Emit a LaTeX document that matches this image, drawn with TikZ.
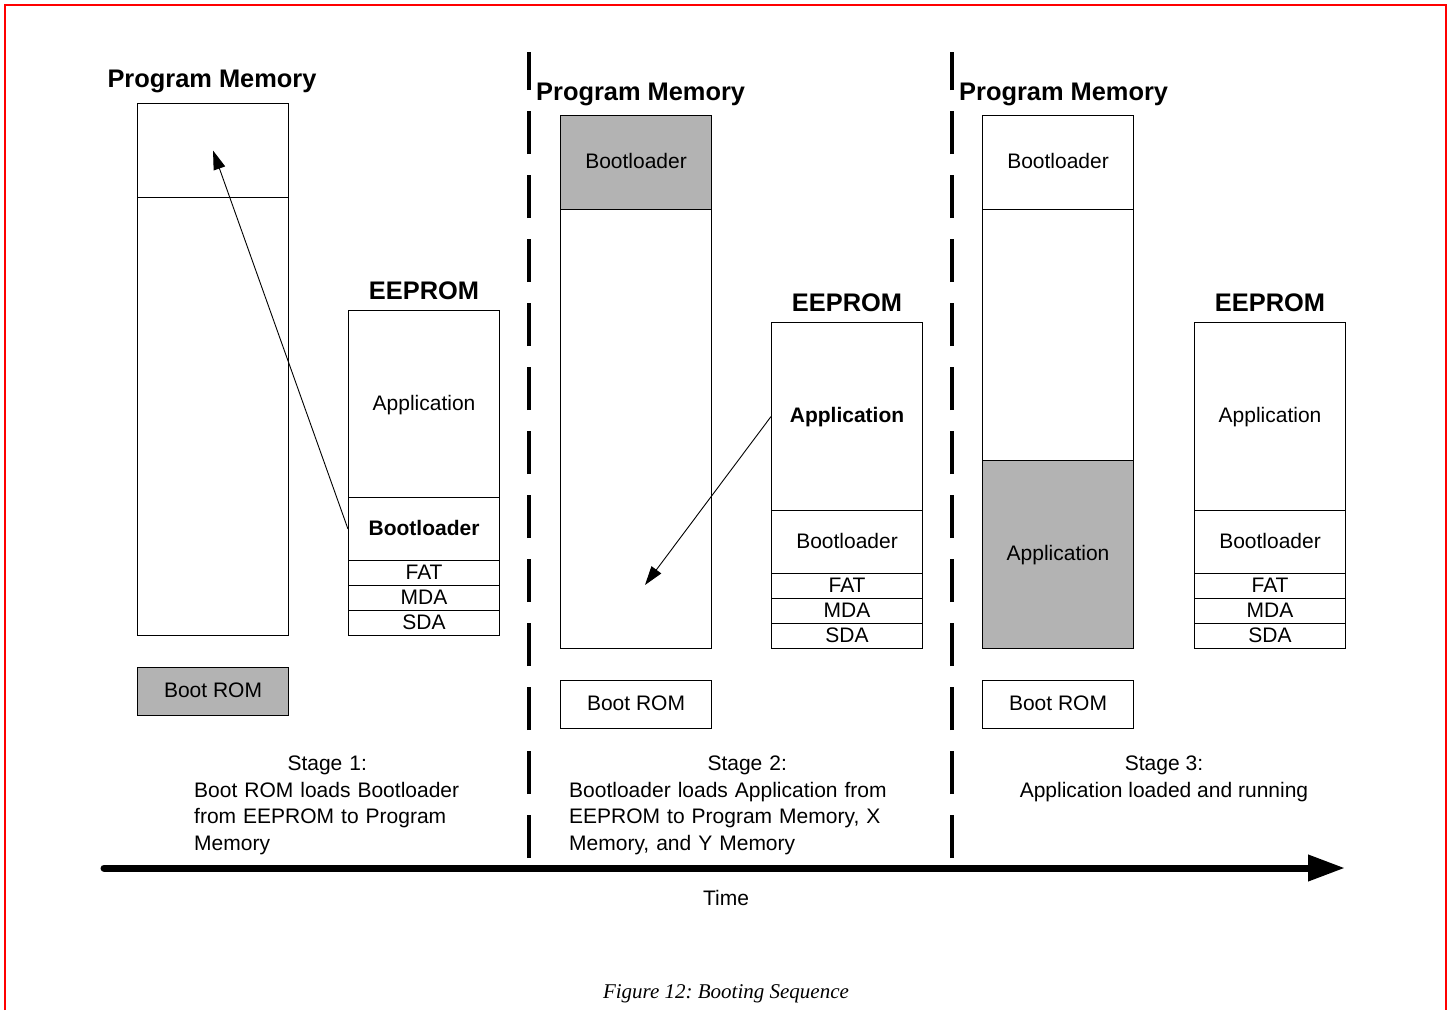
\documentclass[tikz,border=0pt]{standalone}
\usepackage{fontspec}
\setmainfont{Liberation Sans}
\newfontfamily\capfont{Liberation Serif}
\usetikzlibrary{arrows.meta}
\definecolor{boxgray}{RGB}{179,179,179}
\frenchspacing
\begin{document}
\begin{tikzpicture}[x=1pt,y=-1pt,
  cell/.style={draw=black, line width=1.1pt, minimum width=151pt, inner sep=0pt,
    anchor=north west, font=\fontsize{21}{25}\selectfont, text height=12pt, text depth=0pt},
  shaded/.style={fill=boxgray},
  title/.style={font=\fontsize{25.4}{30}\selectfont\bfseries, inner sep=0pt},
  stagetxt/.style={font=\fontsize{21}{26.5}\selectfont, inner sep=0pt},
  divider/.style={line width=3.2pt, dash pattern=on 43pt off 21pt},
  loadarrow/.style={line width=0.9pt, -{Triangle[length=19pt,width=12pt]}},
  timeline/.style={line width=7pt, line cap=round, -{Triangle[length=37pt,width=25pt]}}
]
\useasboundingbox (0,0) rectangle (1452,1010);
% red frame
\draw[red, line width=2pt] (5,1010) -- (5,5) -- (1446,5) -- (1446,1010);

% ---------- Stage 1 ----------
\node[title, anchor=base] (t1pm) at (212,87) {Program Memory};
\node[cell, minimum height=94pt] (pm1top) at (137,103) {};
\node[cell, minimum height=438pt] (pm1bot) at (137,197) {};
\node[title, anchor=base] (t1ee) at (424,299) {EEPROM};
\node[cell, minimum height=187pt] (ee1app) at (348,310) {Application};
\node[cell, minimum height=63pt] (ee1boot) at (348,497) {\bfseries Bootloader};
\node[cell, minimum height=25pt] (ee1fat) at (348,560) {FAT};
\node[cell, minimum height=25pt] (ee1mda) at (348,585) {MDA};
\node[cell, minimum height=25pt] (ee1sda) at (348,610) {SDA};
\node[cell, shaded, minimum height=48pt] (rom1) at (137,667) {Boot ROM};
\draw[loadarrow] (ee1boot.west) -- (pm1top.center);

% ---------- Stage 2 ----------
\node[title, anchor=base west] (t2pm) at (536,100) {Program Memory};
\node[cell, shaded, minimum height=94pt] (pm2boot) at (560,115) {Bootloader};
\node[cell, minimum height=439pt] (pm2rest) at (560,209) {};
\node[title, anchor=base] (t2ee) at (847,311) {EEPROM};
\node[cell, minimum height=188pt] (ee2app) at (771,322) {\bfseries Application};
\node[cell, minimum height=63pt] (ee2boot) at (771,510) {Bootloader};
\node[cell, minimum height=25pt] (ee2fat) at (771,573) {FAT};
\node[cell, minimum height=25pt] (ee2mda) at (771,598) {MDA};
\node[cell, minimum height=25pt] (ee2sda) at (771,623) {SDA};
\node[cell, minimum height=48pt] (rom2) at (560,680) {Boot ROM};
\coordinate (a2tip) at (645,585);
\draw[loadarrow] (ee2app.west) -- (a2tip);

% ---------- Stage 3 ----------
\node[title, anchor=base west] (t3pm) at (959,100) {Program Memory};
\node[cell, minimum height=94pt] (pm3boot) at (982,115) {Bootloader};
\node[cell, minimum height=251pt] (pm3mid) at (982,209) {};
\node[cell, shaded, minimum height=188pt] (pm3app) at (982,460) {Application};
\node[title, anchor=base] (t3ee) at (1270,311) {EEPROM};
\node[cell, minimum height=188pt] (ee3app) at (1194,322) {Application};
\node[cell, minimum height=63pt] (ee3boot) at (1194,510) {Bootloader};
\node[cell, minimum height=25pt] (ee3fat) at (1194,573) {FAT};
\node[cell, minimum height=25pt] (ee3mda) at (1194,598) {MDA};
\node[cell, minimum height=25pt] (ee3sda) at (1194,623) {SDA};
\node[cell, minimum height=48pt] (rom3) at (982,680) {Boot ROM};

% ---------- dividers ----------
\coordinate (d1top) at (529,52);
\coordinate (d1bot) at (529,858);
\coordinate (d2top) at (952,52);
\coordinate (d2bot) at (952,858);
\draw[divider] (d1bot) -- (d1top);
\draw[divider] (d2bot) -- (d2top);

% ---------- stage texts ----------
\node[stagetxt, text width=266pt, align=left, anchor=north west] (s1) at (194,756)
  {\makebox[\hsize]{Stage 1:}\\Boot ROM loads Bootloader\\from EEPROM to Program\\Memory};
\node[stagetxt, text width=356pt, align=left, anchor=north west] (s2) at (569,756)
  {\makebox[\hsize]{Stage 2:}\\Bootloader loads Application from\\EEPROM to Program Memory, X\\Memory, and Y Memory};
\node[stagetxt, align=center, anchor=north] (s3) at (1164,756)
  {Stage 3:\\Application loaded and running};

% ---------- timeline ----------
\coordinate (tl0) at (104,868);
\coordinate (tl1) at (1345,868);
\draw[timeline] (tl0) -- (tl1);
\node[stagetxt, anchor=base] (time) at (726,905) {Time};

% ---------- caption ----------
\node[inner sep=0pt, anchor=base, font=\capfont\itshape\fontsize{21}{25}\selectfont] (cap) at (726,998)
  {Figure 12: Booting Sequence};
\end{tikzpicture}
\end{document}
